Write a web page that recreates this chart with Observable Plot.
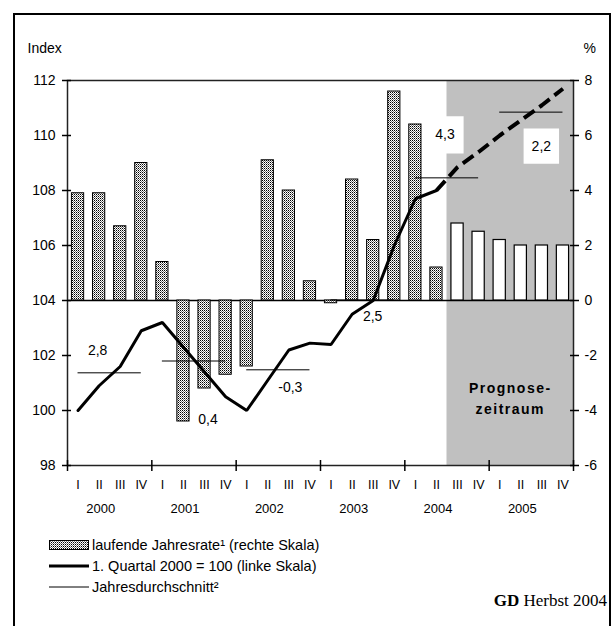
<!DOCTYPE html>
<html>
<head>
<meta charset="utf-8">
<script src="https://cdn.jsdelivr.net/npm/d3@7"></script>
<script src="https://cdn.jsdelivr.net/npm/@observablehq/plot@0.6"></script>
<style>
  html, body { margin: 0; padding: 0; background: #fff; }
  #wrap { position: relative; width: 613px; height: 626px; overflow: hidden; font-family: "Liberation Sans", Arial, sans-serif; }
  #border { position: absolute; left: 13px; top: 13px; width: 598px; height: 700px; border: 2px solid #000; box-sizing: border-box; }
  #chart { position: absolute; left: 0; top: 0; }
  .leg { position: absolute; left: 49px; font-size: 14.5px; line-height: 16px; white-space: nowrap; display: flex; align-items: center; }
  .leg svg { margin-right: 3px; display: block; }
  #src { position: absolute; right: 6px; top: 591px; font-family: "Liberation Serif", "Times New Roman", serif; font-size: 17px; }
</style>
</head>
<body>
<div id="wrap">
  <div id="border"></div>
  <div id="chart"></div>
  <div class="leg" style="top:537px"><svg width="40" height="10"><defs><pattern id="dots2" width="2" height="2" patternUnits="userSpaceOnUse"><rect width="2" height="2" fill="#fff"/><rect width="1" height="1" fill="#000"/><rect x="1" y="1" width="1" height="1" fill="#777"/></pattern></defs><rect x="0.5" y="0.5" width="39" height="9" fill="url(#dots2)" stroke="#000" stroke-width="1"/></svg>laufende Jahresrate¹ (rechte Skala)</div>
  <div class="leg" style="top:558px"><svg width="40" height="10"><line x1="0" x2="40" y1="5" y2="5" stroke="#000" stroke-width="3"/></svg>1. Quartal 2000 = 100 (linke Skala)</div>
  <div class="leg" style="top:579px"><svg width="40" height="10"><line x1="0" x2="40" y1="5" y2="5" stroke="#000" stroke-width="1"/></svg>Jahresdurchschnitt²</div>
  <div id="src"><b>GD</b> Herbst 2004</div>
</div>
<script>
// ---- data ----
const quarterNames = ["I", "II", "III", "IV"];
const years = ["2000", "2001", "2002", "2003", "2004", "2005"];
// laufende Jahresrate (%), right scale
const rate = [3.9, 3.9, 2.7, 5.0, 1.4, -4.4, -3.2, -2.7, -2.4, 5.1, 4.0, 0.7,
              -0.1, 4.4, 2.2, 7.6, 6.4, 1.2, 2.8, 2.5, 2.2, 2.0, 2.0, 2.0];
// Index, 1. Quartal 2000 = 100, left scale
const indexValues = [100.0, 100.9, 101.6, 102.9, 103.2, 102.3, 101.4, 100.5, 100.0, 101.1, 102.2, 102.45,
                     102.4, 103.5, 104.0, 106.0, 107.7, 108.0, 108.85, 109.4, 110.0, 110.55, 111.1, 111.7];
// Jahresdurchschnitt (index level) and its label (growth rate)
const yearAvg = [101.37, 101.8, 101.48, 104.02, 108.46, 110.85];
const yearAvgLabel = ["2,8", "0,4", "-0,3", "2,5", "4,3", "2,2"];
const forecastStart = 18; // first forecast quarter (2004 III)
const leftTicks = [98, 100, 102, 104, 106, 108, 110, 112];
const zeroIndex = 104; // right-scale 0 corresponds to index 104

// ---- label placement (pixels) ----
const labelDx = [-12, 14, 12, 10, -2, 10];
const labelDy = [-22, 59, 18, 17, -43, 34];
const labelBox = [false, false, false, false, true, true];
const boxR = [0, 0, 0, 0, 21, 20];

const nQ = rate.length;
const rows = d3.range(nQ).map(i => ({i, rate: rate[i], idx: indexValues[i], q: quarterNames[i % 4]}));
const bw = 0.58;

function defsMark() {
  const ns = "http://www.w3.org/2000/svg";
  const defs = document.createElementNS(ns, "defs");
  defs.innerHTML = '<pattern id="dots" width="2" height="2" patternUnits="userSpaceOnUse"><rect width="2" height="2" fill="#fff"/><rect width="1" height="1" fill="#000"/><rect x="1" y="1" width="1" height="1" fill="#777"/></pattern>';
  return defs;
}

const labelMarks = [];
years.forEach((y, k) => {
  if (labelBox[k]) {
    labelMarks.push(Plot.dot([k], {x: k * 4 + 2, y: yearAvg[k], dx: labelDx[k], dy: labelDy[k], symbol: "square", r: boxR[k], fill: "#fff", stroke: "none"}));
  }
});
years.forEach((y, k) => {
  labelMarks.push(Plot.text([yearAvgLabel[k]], {x: k * 4 + 2, y: yearAvg[k], text: d => d, dx: labelDx[k], dy: labelDy[k], fontSize: 14}));
});

const plot = Plot.plot({
  width: 613,
  height: 520,
  marginLeft: 67,
  marginRight: 40,
  marginTop: 80,
  marginBottom: 55,
  x: {type: "linear", domain: [0, nQ], axis: null},
  y: {domain: [leftTicks[0], leftTicks[leftTicks.length - 1]], axis: null},
  style: {fontFamily: "'Liberation Sans', Arial, sans-serif", fontSize: "14px", color: "#000", background: "transparent"},
  marks: [
    defsMark,
    Plot.rect([0], {x1: forecastStart, x2: nQ, y1: leftTicks[0], y2: leftTicks[leftTicks.length - 1], fill: "#c0c0c0"}),
    Plot.ruleY([zeroIndex], {stroke: "#000", strokeWidth: 1.5}),
    Plot.rect(rows.filter(d => d.i < forecastStart), {x1: d => d.i + 0.5 - bw / 2, x2: d => d.i + 0.5 + bw / 2, y1: zeroIndex, y2: d => zeroIndex + d.rate, fill: "url(#dots)", stroke: "#000", strokeWidth: 1}),
    Plot.rect(rows.filter(d => d.i >= forecastStart), {x1: d => d.i + 0.5 - bw / 2, x2: d => d.i + 0.5 + bw / 2, y1: zeroIndex, y2: d => zeroIndex + d.rate, fill: "#fff", stroke: "#000", strokeWidth: 1.2}),
    Plot.ruleY(yearAvg, {y: d => d, x1: (d, k) => k * 4 + 0.5, x2: (d, k) => k * 4 + 3.5, stroke: "#000", strokeWidth: 1}),
    Plot.line(rows.filter(d => d.i <= forecastStart - 1), {x: d => d.i + 0.5, y: "idx", stroke: "#000", strokeWidth: 3, strokeLinejoin: "miter"}),
    Plot.line(rows.filter(d => d.i >= forecastStart - 1), {x: d => d.i + 0.5, y: "idx", stroke: "#000", strokeWidth: 4, strokeDasharray: "13,6", strokeLinecap: "butt"}),
    ...labelMarks,
    Plot.text(["Prognose-\nzeitraum"], {x: (forecastStart + nQ) / 2, frameAnchor: "bottom", lineAnchor: "middle", dy: -69, text: d => d, fontWeight: "bold", fontSize: 14, lineHeight: 1.5}),
    Plot.frame({stroke: "#222", strokeWidth: 1.5}),
    Plot.axisY({anchor: "left", ticks: leftTicks, label: null, tickSize: 9, dx: 4, tickPadding: 7, strokeWidth: 1.5, fontSize: 14}),
    Plot.axisY({anchor: "right", ticks: leftTicks, label: null, tickFormat: d => String(d - zeroIndex), tickSize: 9, dx: -4, tickPadding: 6, strokeWidth: 1.5, fontSize: 14}),
    Plot.axisX({ticks: d3.range(0, nQ + 1, 4), label: null, tickSize: 11, dy: -5, tickFormat: () => "", strokeWidth: 1.5}),
    Plot.text(rows, {x: d => d.i + 0.5, frameAnchor: "bottom", lineAnchor: "middle", text: "q", dy: 19, fontSize: 12.5}),
    Plot.text(years, {x: (d, k) => k * 4 + 2, frameAnchor: "bottom", lineAnchor: "middle", text: d => d, dy: 43, dx: -9, fontSize: 13}),
    Plot.text(["Index"], {frameAnchor: "top-left", lineAnchor: "middle", text: d => d, dx: -40, dy: -32, textAnchor: "start", fontSize: 14}),
    Plot.text(["%"], {frameAnchor: "top-right", lineAnchor: "middle", text: d => d, dx: 10, dy: -32, textAnchor: "start", fontSize: 14})
  ]
});
document.getElementById("chart").appendChild(plot);
plot.querySelectorAll("text").forEach(t => {
  if (t.textContent.startsWith("Prognose")) t.style.letterSpacing = "1.5px";
});
</script>
</body>
</html>
